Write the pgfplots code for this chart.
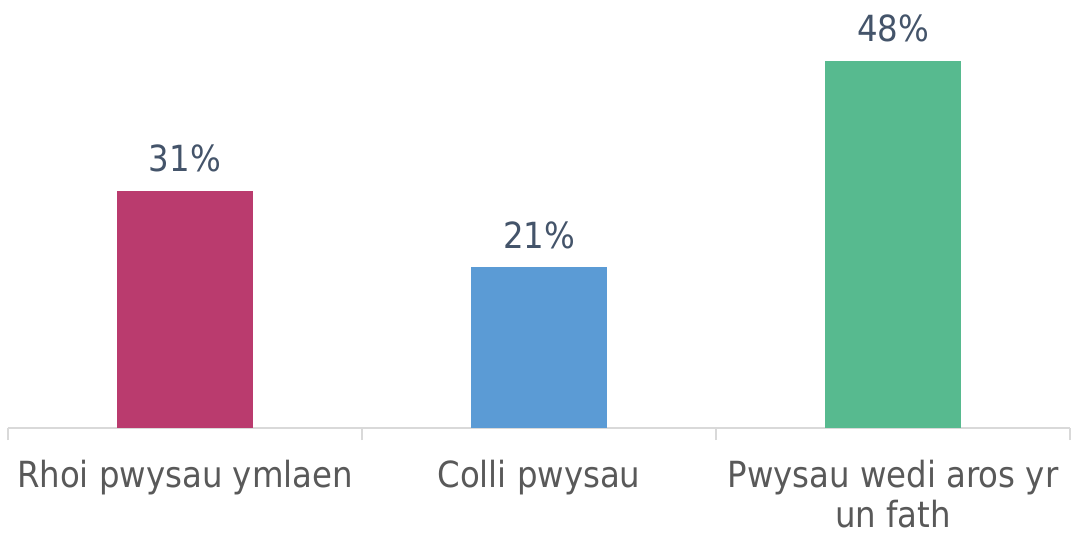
\documentclass[border=0pt]{standalone}
\usepackage{fontspec}
\setmainfont{DejaVu Sans Condensed}
\usepackage{pgfplots}
\pgfplotsset{compat=1.18}

\definecolor{barPink}{RGB}{186, 59, 110}
\definecolor{barBlue}{RGB}{91, 155, 213}
\definecolor{barGreen}{RGB}{87, 186, 143}
\definecolor{valText}{RGB}{68, 84, 106}
\definecolor{catText}{RGB}{89, 89, 89}
\definecolor{axisGray}{RGB}{217, 217, 217}

\begin{document}
\begin{tikzpicture}
    \begin{axis}[
        scale only axis,
        width        = 398.25pt,   % 1062 px at 0.375 pt/px
        height       = 160.5pt,    % 428 px
        xmin = -0.5, xmax = 2.5,
        ymin = 0,    ymax = 55.95,
        ybar,
        bar width    = 51pt,
        axis x line* = bottom,
        axis y line  = none,
        x axis line style = {draw=axisGray, line width=1pt},
        xtick        = {0,1,2},
        xticklabels  = {Rhoi pwysau ymlaen, Colli pwysau, {Pwysau wedi aros yr\\un fath}},
        major tick length = 0pt,
        xticklabel style = {font=\fontsize{13.5}{15.2}\selectfont, text=catText,
                            align=center, yshift=-8.5pt},
        extra x ticks = {-0.5,0.5,1.5,2.5},
        extra x tick labels = {},
        extra x tick style = {major tick length=4.5pt, tick align=outside,
                              tick style={draw=axisGray, line width=0.75pt}},
        /pgf/number format/assume math mode=true,
        nodes near coords = {\pgfmathprintnumber{\pgfplotspointmeta}\%},
        every node near coord/.append style = {font=\fontsize{13.5}{15.75}\selectfont,
                                               text=valText, yshift=3.5pt},
        clip = false,
    ]
    \addplot[fill=barPink,  draw=none, bar shift=0pt] coordinates {(0,31)};
    \addplot[fill=barBlue,  draw=none, bar shift=0pt] coordinates {(1,21)};
    \addplot[fill=barGreen, draw=none, bar shift=0pt] coordinates {(2,48)};

    \coordinate (bbSW) at (rel axis cs:-0.00753,-0.2477);
    \coordinate (bbNE) at (rel axis cs:1.00094,1);
    \end{axis}
    \pgfresetboundingbox
    \path[use as bounding box] (bbSW) rectangle (bbNE);
\end{tikzpicture}
\end{document}
